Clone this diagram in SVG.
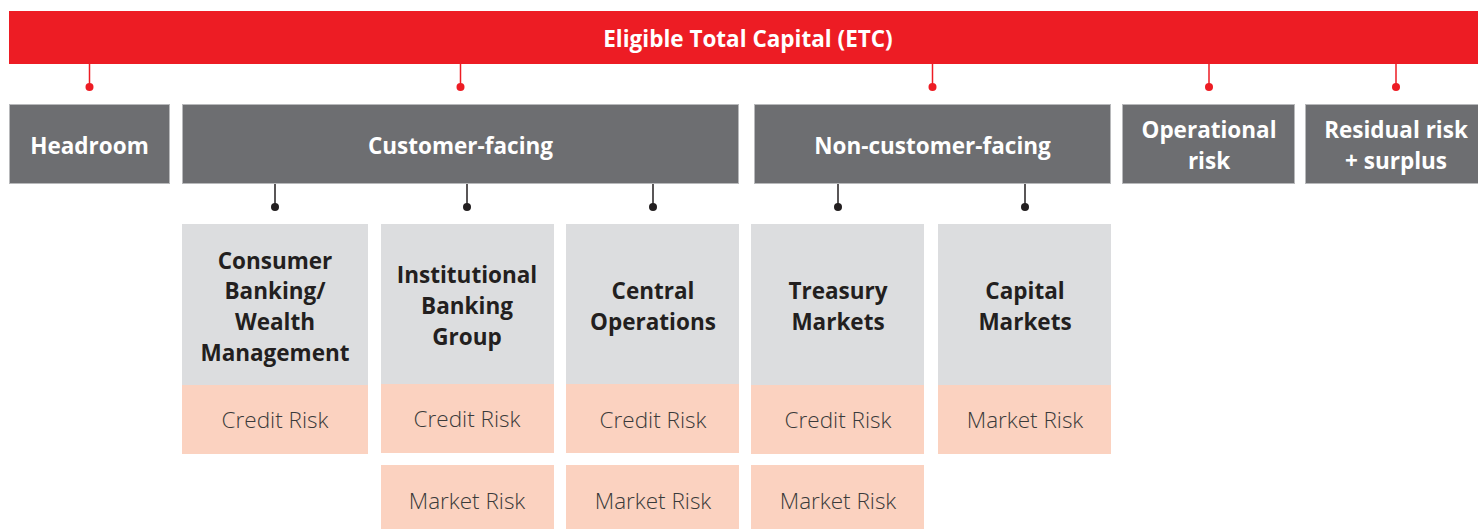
<svg xmlns="http://www.w3.org/2000/svg" width="1478" height="529" viewBox="0 0 1478 529">
<style>
.bar{fill:#ed1c24}
.dark{fill:#6d6e71;stroke:#b8b9bb;stroke-width:1}
.lite{fill:#dcdddf}
.pink{fill:#fbd2c0}
.th{font-family:"Open Sans","Liberation Sans",sans-serif;font-weight:700;font-size:22.5px;text-anchor:middle}
.w{fill:#ffffff}
.k{fill:#231f20}
.r{font-family:"Open Sans","Liberation Sans",sans-serif;font-weight:300;font-size:22.5px;text-anchor:middle;fill:#3a3a3a}
.rl{stroke:#ed1c24;stroke-width:1.5;fill:none}
.bl{stroke:#231f20;stroke-width:1.5;fill:none}
</style>
<g id="etc">
<rect class="bar" x="9" y="11" width="1469" height="53"/>
<text class="th w" x="748" y="47">Eligible Total Capital (ETC)</text>
</g>
<g id="connectors">
<path class="rl" d="M89.5 64V87M460.5 64V87M932.5 64V87M1209 64V87M1396 64V87"/>
<g fill="#ed1c24"><circle cx="89.5" cy="87" r="4"/><circle cx="460.5" cy="87" r="4"/><circle cx="932.5" cy="87" r="4"/><circle cx="1209" cy="87" r="4"/><circle cx="1396" cy="87" r="4"/></g>
<path class="bl" d="M275 184V207M467 184V207M653 184V207M838 184V207M1025 184V207"/>
<g fill="#231f20"><circle cx="275" cy="207" r="4"/><circle cx="467" cy="207" r="4"/><circle cx="653" cy="207" r="4"/><circle cx="838" cy="207" r="4"/><circle cx="1025" cy="207" r="4"/></g>
</g>
<g id="headroom">
<rect class="dark" x="9.5" y="104.5" width="160" height="79"/>
<text class="th w" x="89.5" y="154">Headroom</text>
</g>
<g id="customer-facing">
<rect class="dark" x="182.5" y="104.5" width="556" height="79"/>
<text class="th w" x="460.5" y="154">Customer-facing</text>
</g>
<g id="non-customer-facing">
<rect class="dark" x="754.5" y="104.5" width="356" height="79"/>
<text class="th w" x="932.5" y="154">Non-customer-facing</text>
</g>
<g id="operational-risk">
<rect class="dark" x="1122.5" y="104.5" width="172" height="79"/>
<text class="th w" x="1209" y="138">Operational</text>
<text class="th w" x="1209" y="169">risk</text>
</g>
<g id="residual-risk">
<rect class="dark" x="1305.5" y="104.5" width="173" height="79"/>
<text class="th w" x="1396" y="138">Residual risk</text>
<text class="th w" x="1396" y="169">+ surplus</text>
</g>
<g id="consumer-banking">
<rect class="lite" x="182" y="224" width="186" height="161"/>
<text class="th k" x="275" y="269">Consumer</text>
<text class="th k" x="275" y="299">Banking/</text>
<text class="th k" x="275" y="330">Wealth</text>
<text class="th k" x="275" y="361">Management</text>
<rect class="pink" x="182" y="385" width="186" height="69"/>
<text class="r" x="275" y="428">Credit Risk</text>
</g>
<g id="institutional-banking">
<rect class="lite" x="381" y="224" width="173" height="160"/>
<text class="th k" x="467" y="283">Institutional</text>
<text class="th k" x="467" y="314">Banking</text>
<text class="th k" x="467" y="345">Group</text>
<rect class="pink" x="381" y="384" width="173" height="69"/>
<text class="r" x="467" y="427">Credit Risk</text>
<rect class="pink" x="381" y="465" width="173" height="64"/>
<text class="r" x="467" y="509">Market Risk</text>
</g>
<g id="central-operations">
<rect class="lite" x="566" y="224" width="173" height="160"/>
<text class="th k" x="653" y="299">Central</text>
<text class="th k" x="653" y="330">Operations</text>
<rect class="pink" x="566" y="384" width="173" height="69"/>
<text class="r" x="653" y="428">Credit Risk</text>
<rect class="pink" x="566" y="465" width="173" height="64"/>
<text class="r" x="653" y="509">Market Risk</text>
</g>
<g id="treasury-markets">
<rect class="lite" x="751" y="224" width="173" height="161"/>
<text class="th k" x="838" y="299">Treasury</text>
<text class="th k" x="838" y="330">Markets</text>
<rect class="pink" x="751" y="385" width="173" height="69"/>
<text class="r" x="838" y="428">Credit Risk</text>
<rect class="pink" x="751" y="465" width="173" height="64"/>
<text class="r" x="838" y="509">Market Risk</text>
</g>
<g id="capital-markets">
<rect class="lite" x="938" y="224" width="173" height="161"/>
<text class="th k" x="1025" y="299">Capital</text>
<text class="th k" x="1025" y="330">Markets</text>
<rect class="pink" x="938" y="385" width="173" height="69"/>
<text class="r" x="1025" y="428">Market Risk</text>
</g>
</svg>
